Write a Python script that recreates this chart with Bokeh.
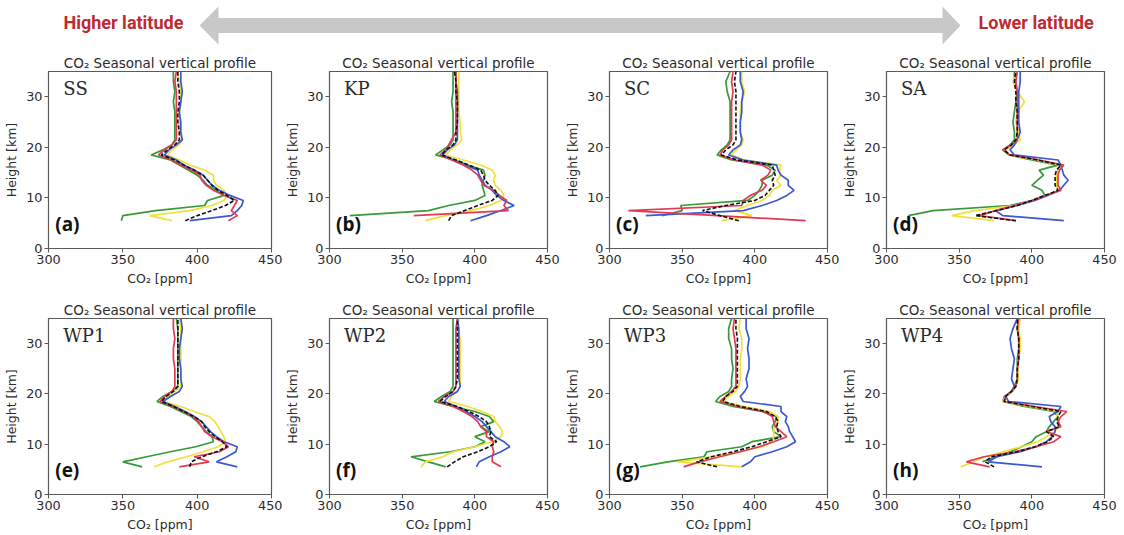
import numpy as np
from bokeh.plotting import figure
from bokeh.models import Range1d, FixedTicker, Label
from bokeh.layouts import column, row
from bokeh.embed import file_html
from bokeh.resources import INLINE

nan = float("nan")

# ---------------- data ----------------
HEIGHT_KM = [5.5, 6.5, 7.5, 8.5, 9.5, 10.5, 11.5, 12.5, 13.5, 14.5, 15.5, 16.5,
             17.5, 18.5, 19.5, 20.5, 21.5, 23, 25, 27, 29, 31, 33, 35]

STATIONS = ["SS", "KP", "SC", "SA", "WP1", "WP2", "WP3", "WP4"]
PANEL_TAGS = ["(a)", "(b)", "(c)", "(d)", "(e)", "(f)", "(g)", "(h)"]
X_TICKS = [300, 350, 400, 450]
Y_TICKS = [0, 10, 20, 30]

SS_GREEN = [349, 350, 372, 405, 407, 418, 413, 407, 404, 400, 394, 388, 382, 369, 377, 383, 385, 385, 385, 385, 384, 385, 384, 384]
SS_YELLOW = [383, 368, 395, 410, 418, 420, 418, 413, 411, 411, 405, 395, 388, 380, 383, 388, 390, 388, 388, 388, 389, 389, 388, 387]
SS_RED = [421, 427, 423, 425, 427, 418, 411, 406, 403, 402, 396, 389, 383, 374, 378, 383, 386, 386, 386, 386, 386, 386, 385, 386]
SS_BLUE = [395, 423, 427, 430, 431, 422, 415, 410, 407, 404, 398, 391, 386, 378, 381, 386, 390, 389, 389, 388, 389, 390, 389, 389]
SS_MEAN = [392, 400, 410, 419, 425, 420, 414, 410, 407, 404, 398, 391, 385, 376, 380, 385, 388, 388, 387, 387, 388, 388, 387, 387]

KP_GREEN = [nan, 314, 368, 382, 400, 407, 406, 405, 406, 407, 406, 395, 386, 373, 378, 383, 385, 385, 385, 385, 384, 385, 385, 385]
KP_YELLOW = [366, 380, 397, 410, 418, 420, 418, 414, 413, 414, 412, 404, 392, 380, 383, 388, 391, 390, 390, 389, 389, 389, 389, 389]
KP_RED = [nan, 358, 423, 420, 422, 417, 413, 406, 404, 402, 398, 392, 384, 376, 380, 382, 384, 387, 387, 387, 387, 387, 387, 387]
KP_BLUE = [397, 408, 418, 427, 420, 415, 412, 407, 405, 403, 402, 393, 385, 378, 381, 386, 388, 388, 388, 388, 388, 388, 387, 387]
KP_MEAN = [382, 384, 393, 402, 412, 416, 414, 410, 407, 406, 404, 396, 387, 377, 380, 385, 387, 387, 388, 388, 388, 387, 387, 386]

SC_GREEN = [nan, 336, 350, 349, 395, 400, 403, 405, 405, 412, 414, 408, 384, 374, 377, 381, 383, 383, 383, 383, 383, 381, 380, 383]
SC_YELLOW = [377, 398, 386, 395, 405, 410, 412, 418, 415, 418, 417, 418, 393, 384, 387, 391, 392, 390, 390, 390, 391, 393, 391, 391]
SC_RED = [435, 374, 313, 391, 392, 397, 405, 408, 404, 409, 411, 405, 386, 376, 378, 382, 384, 384, 384, 384, 384, 385, 384, 385]
SC_BLUE = [nan, 325, 392, 405, 415, 422, 427, 423, 423, 418, 416, 415, 392, 382, 385, 390, 391, 390, 390, 391, 391, 392, 390, 390]
SC_MEAN = [389, 376, 364, 380, 400, 407, 410, 413, 412, 414, 413, 412, 388, 377, 380, 385, 387, 387, 387, 387, 387, 387, 386, 387]

SA_GREEN = [nan, 315, 332, 385, 400, 409, 407, 400, 404, 408, 405, 418, 400, 384, 380, 385, 388, 388, 387, 388, 389, 390, 388, 388]
SA_YELLOW = [374, 345, 361, 388, 400, 410, 418, 417, 417, 417, 418, 420, 403, 384, 382, 388, 392, 391, 389, 390, 395, 390, 387, 390]
SA_RED = [389, 364, 375, 388, 400, 410, 420, 418, 418, 418, 419, 422, 405, 385, 380, 386, 390, 390, 390, 390, 390, 390, 389, 390]
SA_BLUE = [422, 380, 375, 390, 402, 411, 419, 422, 425, 422, 421, 420, 418, 388, 385, 388, 390, 392, 391, 391, 391, 391, 392, 392]
SA_MEAN = [389, 361, 376, 390, 400, 409, 418, 416, 416, 416, 417, 420, 404, 385, 381, 386, 389, 390, 390, 390, 389, 389, 388, 389]

WP1_GREEN = [363, 350, 366, 382, 399, 411, 410, 406, 403, 400, 396, 389, 382, 373, 377, 383, 387, 387, 387, 387, 387, 387, 387, 386]
WP1_YELLOW = [371, 380, 393, 404, 414, 419, 418, 416, 414, 412, 408, 398, 389, 377, 380, 385, 389, 389, 389, 389, 389, 389, 389, 388]
WP1_RED = [388, 408, 398, 415, 421, 417, 410, 405, 403, 401, 397, 391, 384, 375, 378, 383, 385, 385, 385, 384, 384, 385, 384, 384]
WP1_BLUE = [427, 413, 420, 426, 427, 418, 413, 409, 406, 403, 398, 392, 385, 377, 382, 388, 390, 389, 389, 388, 388, 389, 390, 389]
WP1_MEAN = [395, 396, 403, 413, 420, 417, 412, 408, 405, 403, 398, 391, 384, 376, 379, 384, 387, 387, 387, 387, 387, 387, 387, 387]

WP2_GREEN = [380, 368, 356, 383, 400, 407, 400, 410, 404, 413, 410, 400, 385, 372, 377, 383, 385, 385, 385, 385, 385, 385, 385, 385]
WP2_YELLOW = [363, 366, 378, 385, 400, 412, 418, 419, 417, 414, 413, 405, 395, 382, 384, 388, 390, 390, 390, 390, 390, 390, 388, 389]
WP2_RED = [418, 412, 412, 413, 412, 413, 408, 408, 404, 402, 398, 392, 385, 375, 379, 385, 387, 387, 387, 387, 387, 387, 387, 388]
WP2_BLUE = [401, 403, 410, 418, 424, 420, 414, 411, 408, 405, 400, 394, 387, 379, 382, 388, 390, 389, 389, 389, 389, 389, 389, 388]
WP2_MEAN = [381, 386, 392, 402, 410, 415, 410, 411, 410, 408, 403, 396, 388, 376, 380, 385, 387, 388, 388, 388, 388, 388, 388, 388]

WP3_GREEN = [321, 340, 365, 367, 391, 398, 418, 413, 412, 414, 415, 405, 385, 373, 376, 382, 384, 384, 385, 384, 384, 382, 382, 384]
WP3_YELLOW = [391, 347, 370, 390, 405, 412, 413, 413, 413, 416, 416, 410, 393, 378, 382, 387, 389, 390, 390, 390, 391, 391, 389, 390]
WP3_RED = [351, 362, 376, 390, 403, 413, 422, 418, 414, 413, 412, 406, 388, 376, 380, 384, 387, 387, 387, 387, 387, 386, 385, 386]
WP3_BLUE = [391, 397, 400, 412, 422, 428, 426, 424, 423, 421, 422, 418, 418, 392, 390, 393, 395, 394, 396, 396, 395, 396, 394, 394]
WP3_MEAN = [374, 360, 370, 385, 398, 408, 418, 416, 415, 416, 414, 408, 390, 378, 380, 385, 388, 388, 388, 388, 388, 388, 387, 387]

WP4_GREEN = [nan, 366, 375, 385, 393, 400, 403, 410, 412, 415, 418, 415, 395, 380, 381, 386, 388, 390, 390, 390, 391, 391, 390, 391]
WP4_YELLOW = [351, 360, 368, 380, 393, 404, 410, 416, 418, 419, 417, 418, 398, 380, 382, 387, 389, 391, 390, 391, 392, 392, 391, 392]
WP4_RED = [371, 355, 367, 388, 403, 415, 420, 410, 420, 418, 420, 424, 402, 381, 382, 386, 389, 390, 390, 391, 391, 391, 390, 391]
WP4_BLUE = [407, 370, 376, 392, 403, 410, 414, 416, 416, 413, 412, 418, 420, 384, 382, 386, 388, 386, 387, 388, 386, 385, 387, 390]
WP4_MEAN = [374, 368, 372, 390, 402, 411, 415, 410, 419, 417, 418, 420, 400, 381, 382, 386, 389, 390, 390, 391, 391, 391, 390, 390]

PROFILES = {
    "SS": (SS_GREEN, SS_YELLOW, SS_RED, SS_BLUE, SS_MEAN),
    "KP": (KP_GREEN, KP_YELLOW, KP_RED, KP_BLUE, KP_MEAN),
    "SC": (SC_GREEN, SC_YELLOW, SC_RED, SC_BLUE, SC_MEAN),
    "SA": (SA_GREEN, SA_YELLOW, SA_RED, SA_BLUE, SA_MEAN),
    "WP1": (WP1_GREEN, WP1_YELLOW, WP1_RED, WP1_BLUE, WP1_MEAN),
    "WP2": (WP2_GREEN, WP2_YELLOW, WP2_RED, WP2_BLUE, WP2_MEAN),
    "WP3": (WP3_GREEN, WP3_YELLOW, WP3_RED, WP3_BLUE, WP3_MEAN),
    "WP4": (WP4_GREEN, WP4_YELLOW, WP4_RED, WP4_BLUE, WP4_MEAN),
}

# ---------------- style ----------------
C_GREEN = "#379a37"
C_YELLOW = "#f0e03c"
C_RED = "#e23a55"
C_BLUE = "#3a58cf"
C_BLACK = "#111111"
AX = "#5a5a5a"
TXT = "#2a2a2a"
FONT = "DejaVu Sans"

# per column: (left border, right border)
COL_BORDERS = [(48, 11), (42, 15), (42, 12), (42, 20)]
FRAME_W = 223
ROW_SPEC = [(26, 177, 42), (28, 176, 41)]   # (top border, frame height, bottom border)


def make_panel(idx):
    station = STATIONS[idx]
    r, c = divmod(idx, 4)
    bl, br = COL_BORDERS[c]
    bt, fh, bb = ROW_SPEC[r]
    p = figure(width=bl + FRAME_W + br, height=bt + fh + bb,
               x_range=Range1d(300, 450), y_range=Range1d(0, 35),
               output_backend="svg", toolbar_location=None,
               min_border_left=bl, min_border_right=br,
               min_border_top=bt, min_border_bottom=bb,
               background_fill_color="white", border_fill_color="white")
    p.title.text = "CO\u2082 Seasonal vertical profile"
    p.title.align = "center"
    p.title.text_font = FONT
    p.title.text_font_style = "normal"
    p.title.text_font_size = "13.5px"
    p.title.text_color = TXT
    p.title.standoff = 2
    p.grid.visible = False
    p.outline_line_color = AX
    p.outline_line_width = 1.2

    for ax in (p.xaxis[0], p.yaxis[0]):
        ax.axis_line_color = AX
        ax.major_tick_line_color = AX
        ax.minor_tick_line_color = None
        ax.major_tick_out = 4
        ax.major_tick_in = 0
        ax.major_label_standoff = 2
        ax.major_label_text_font = FONT
        ax.major_label_text_font_size = "12.8px"
        ax.major_label_text_color = TXT
        ax.axis_label_text_font = FONT
        ax.axis_label_text_font_size = "12.5px"
        ax.axis_label_text_font_style = "normal"
        ax.axis_label_text_color = TXT
        ax.axis_label_standoff = 4
    p.xaxis.ticker = FixedTicker(ticks=X_TICKS)
    p.yaxis.ticker = FixedTicker(ticks=Y_TICKS)
    p.xaxis.axis_label = "CO\u2082 [ppm]"
    p.yaxis.axis_label = "Height [km]"

    h = np.array(HEIGHT_KM, dtype=float)
    g, y, rd, b, m = PROFILES[station]
    for vals, col in ((g, C_GREEN), (y, C_YELLOW), (b, C_BLUE), (rd, C_RED)):
        p.line(np.array(vals, dtype=float), h, line_color=col, line_width=1.7)
    p.line(np.array(m, dtype=float), h, line_color=C_BLACK, line_width=1.6,
           line_dash="4 2")

    p.add_layout(Label(x=310, y=29.6, text=station, text_font="DejaVu Serif",
                       text_font_size="18px", text_color=TXT))
    p.add_layout(Label(x=304.5, y=2.3, text=PANEL_TAGS[idx], text_font="Open Sans",
                       text_font_style="bold", text_font_size="19px",
                       text_color="#111111"))
    return p


# ---------------- header with arrow ----------------
header = figure(width=1124, height=45, x_range=Range1d(0, 1124), y_range=Range1d(45, 0),
                output_backend="svg", toolbar_location=None,
                min_border=0, min_border_left=0, min_border_right=0,
                min_border_top=0, min_border_bottom=0)
header.axis.visible = False
header.grid.visible = False
header.outline_line_color = None
ARROW_X = [199, 218, 218, 942, 942, 960, 942, 942, 218, 218]
ARROW_Y = [25, 6, 17.5, 17.5, 6, 25, 44, 32.5, 32.5, 44]
header.patch(ARROW_X, ARROW_Y, fill_color="#c8c8c8", line_color=None)
for txt, x0 in (("Higher latitude", 63), ("Lower latitude", 978)):
    header.add_layout(Label(x=x0, y=32, text=txt, text_font="Roboto",
                            text_font_style="bold", text_font_size="18px",
                            text_color="#be2a30"))

panels = [make_panel(i) for i in range(8)]
layout = column(header, row(*panels[:4]), row(*panels[4:]))

open("out.html", "w").write(file_html(layout, INLINE))
